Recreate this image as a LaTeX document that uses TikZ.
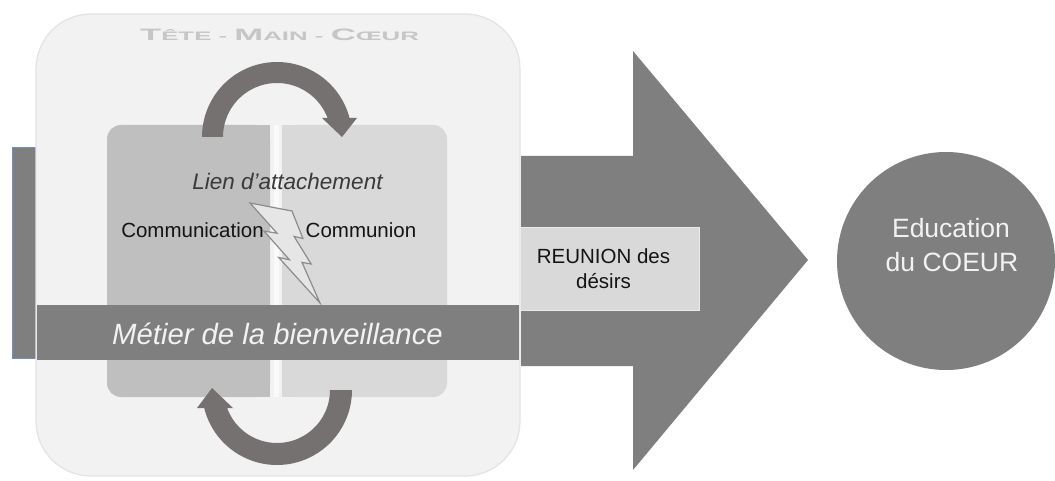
\documentclass[tikz,border=0pt]{standalone}
\usepackage{fontspec}
\usepackage{graphicx}
\setmainfont{Liberation Sans}
\definecolor{bigbox}{HTML}{F2F2F2}
\definecolor{boxedge}{HTML}{E3E3E3}
\definecolor{leftbox}{HTML}{BFBFBF}
\definecolor{rightbox}{HTML}{D9D9D9}
\definecolor{bandgray}{HTML}{7F7F7F}
\definecolor{arcgray}{HTML}{767171}
\definecolor{barblue}{HTML}{6F8FC8}
\definecolor{boltfill}{HTML}{E6E6E6}
\definecolor{boltedge}{HTML}{8C8C8C}
\definecolor{reunionedge}{HTML}{EBEBEB}
\definecolor{titlecol}{HTML}{C6C6C6}
\definecolor{liencol}{HTML}{3A3A3A}
\definecolor{darktext}{HTML}{141414}
\definecolor{lighttext}{HTML}{F2F2F2}
\newcommand{\tmcBig}[1]{{\fontsize{16.5}{17}\selectfont #1}}
\newcommand{\tmcSmall}[1]{{\fontsize{12.3}{13}\selectfont #1}}
\begin{document}
\begin{tikzpicture}[x=1pt,y=-1pt,
  txt/.style={inner sep=0pt, anchor=base},
  lbl/.style={txt, font=\fontsize{20.5}{24}\selectfont, text=darktext},
  edutxt/.style={txt, font=\fontsize{26.5}{30}\selectfont, text=lighttext},
  arcshape/.style={fill=arcgray},
]
\useasboundingbox (0,0) rectangle (1055,481);
\fill[white] (0,0) rectangle (1055,481);
% left bar
\fill[bandgray] (12,148) rectangle (40,358);
\draw[barblue, line width=1pt] (40,148) -- (12.5,148) -- (12.5,358) -- (40,358);
% big rounded box
\draw[fill=bigbox, draw=boxedge, line width=1.2pt, rounded corners=55pt] (36,14) rectangle (520,476);
% inner boxes
\fill[leftbox, rounded corners=14pt] (107,125) rectangle (270,397);
\fill[leftbox] (180,125) rectangle (270,397);
\fill[rightbox, rounded corners=14pt] (282,125) rectangle (447,397);
\fill[rightbox] (282,125) rectangle (380,397);
\fill[white!60!bigbox] (273.5,125) rectangle (278.5,397);
% lightning bolt
\filldraw[fill=boltfill, draw=boltedge, line width=1.2pt, line join=miter]
  (292,211) -- (302.9,238.5) -- (294.1,236.4) -- (311.1,264) -- (302,262.4)
  -- (320,303) -- (278.7,257.5) -- (289.5,259.8) -- (264,231.1) -- (277,233.2)
  -- (250,203) -- cycle;
% band
\fill[bandgray] (37,305) rectangle (519,360);
% big arrow
\fill[bandgray] (521,156) -- (633,156) -- (633,51) -- (808,260) -- (633,470)
  -- (633,366) -- (521,366) -- cycle;
% reunion box
\node[draw=reunionedge, line width=1pt, fill=rightbox, minimum width=179pt,
  minimum height=83pt, inner sep=0pt, anchor=north west] (reunion) at (520,227) {};
% circle
\node[circle, fill=bandgray, minimum size=218pt, inner sep=0pt] (edu) at (946,261) {};
% top curved arrow
\fill[arcshape]
  plot[domain=-180:-14.7, samples=70, variable=\t] ({277+75*cos(\t)}, {137+75*sin(\t)})
  -- (357,118) -- (342,137) -- (322,118)
  -- plot[domain=-20.6:-180, samples=70, variable=\t] ({277+54*cos(\t)}, {137+54*sin(\t)})
  -- cycle;
% bottom curved arrow
\fill[arcshape]
  plot[domain=0:166.1, samples=70, variable=\t] ({277+75*cos(\t)}, {390+75*sin(\t)})
  -- (197,408) -- (212,388) -- (233,408)
  -- plot[domain=160.1:0, samples=70, variable=\t] ({277+53*cos(\t)}, {390+53*sin(\t)})
  -- cycle;
% texts
\node[txt, text=titlecol, font=\bfseries] (title) at (279.5,40.7)
  {\scalebox{2.1}[1]{\tmcBig{T}\tmcSmall{ÊTE - }\tmcBig{M}\tmcSmall{AIN - }\tmcBig{C}\tmcSmall{ŒUR}}};
\node[txt, font=\itshape\fontsize{22.5}{24}\selectfont, text=liencol] (lien) at (287.5,190) {Lien d'attachement};
\node[lbl] (communication) at (192.5,237) {Communication};
\node[lbl] (communion) at (361,237) {Communion};
\node[txt, font=\itshape\fontsize{29.3}{30}\selectfont, text=lighttext] (metier) at (277.5,344) {Métier de la bienveillance};
\node[lbl, text=darktext] (reunion1) at (603.5,263) {REUNION des};
\node[lbl, text=darktext] (reunion2) at (603.5,288) {désirs};
\node[edutxt] (edu1) at (951,237) {Education};
\node[edutxt] (edu2) at (952,271) {du COEUR};
\end{tikzpicture}
\end{document}
